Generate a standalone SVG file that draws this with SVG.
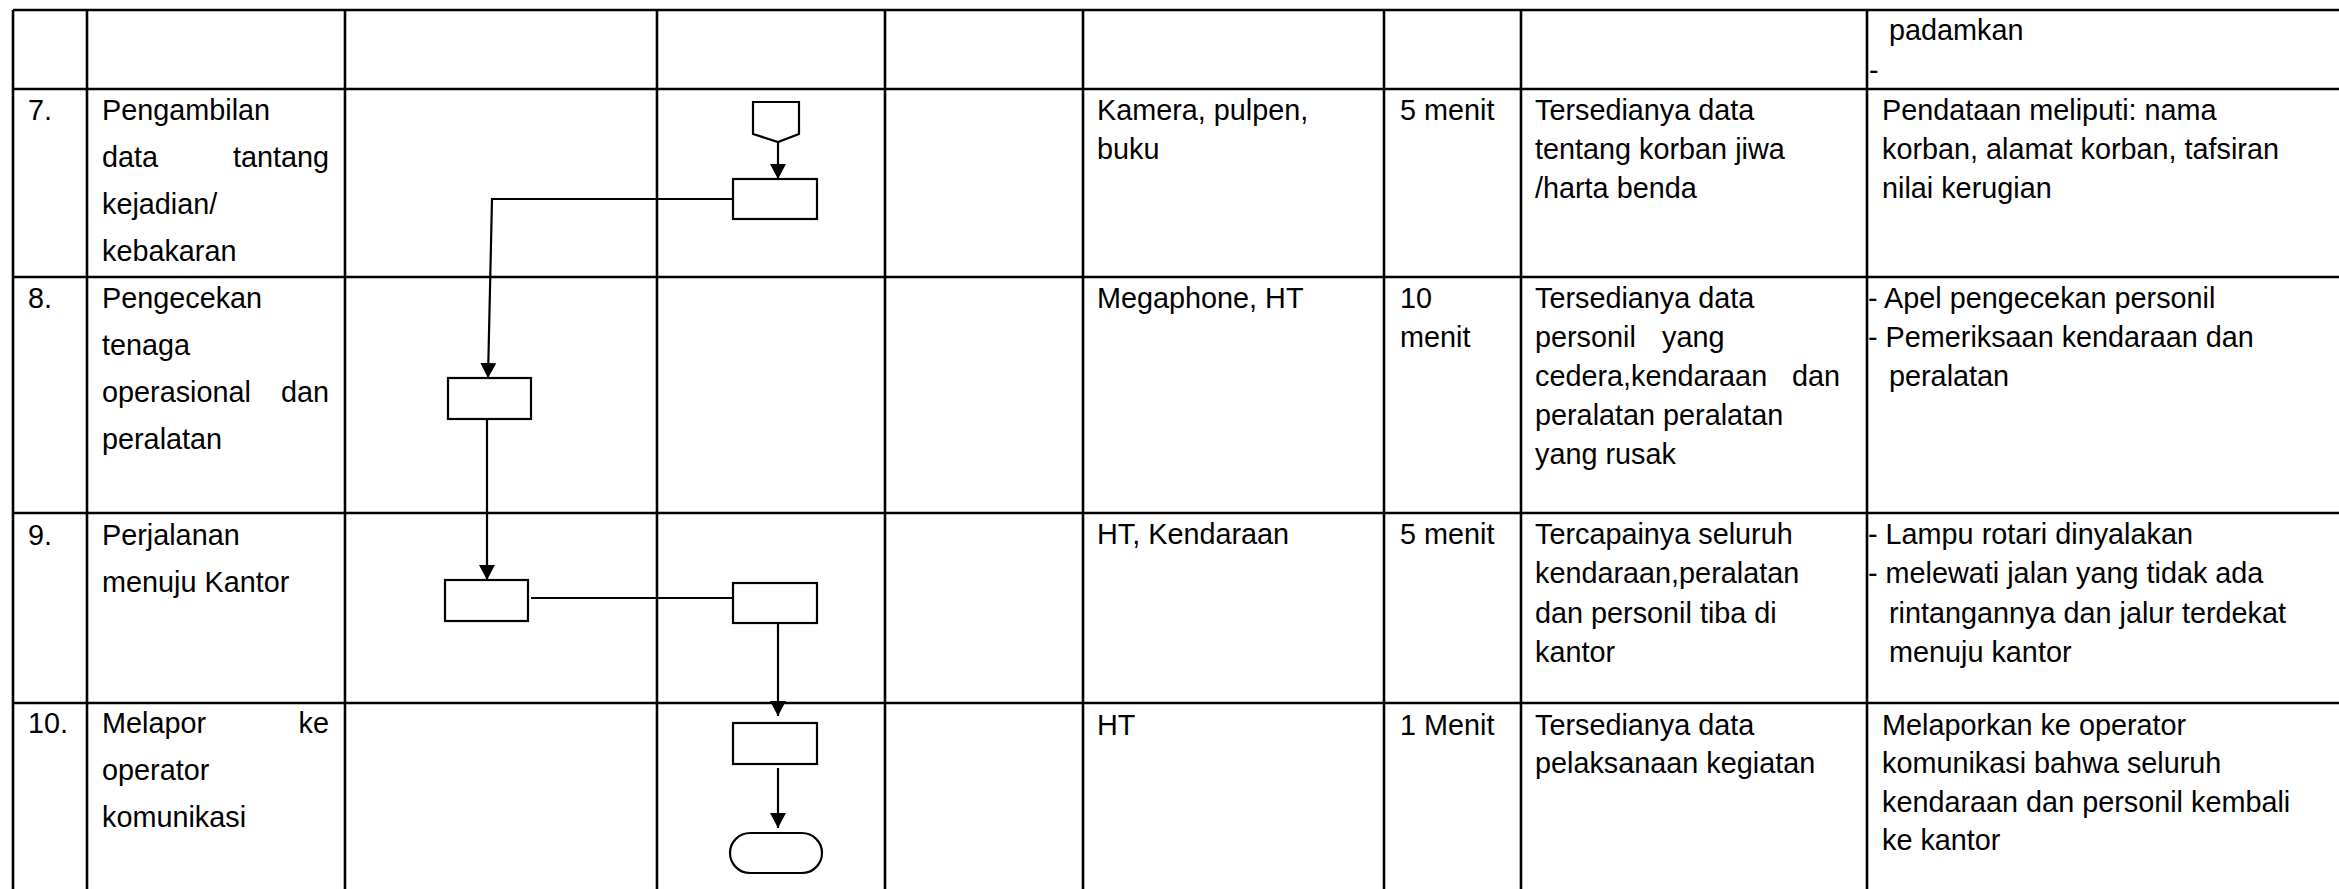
<svg xmlns="http://www.w3.org/2000/svg" width="2339" height="889" viewBox="0 0 2339 889">
<style>
.grid line{stroke:#000;stroke-width:2.6}
.t{font-family:"Liberation Sans",Arial,sans-serif;font-size:28.8px;fill:#000}
.e{text-anchor:end}
.shape{fill:#fff;stroke:#000;stroke-width:2.2}
.conn{fill:none;stroke:#000;stroke-width:2.2}
</style>
<defs>
<marker id="arr" markerUnits="userSpaceOnUse" markerWidth="16" markerHeight="16" viewBox="0 0 16 16" refX="15" refY="8" orient="auto">
<path d="M0,0 L15,8 L0,16 Z" fill="#000"/>
</marker>
</defs>
<rect width="2339" height="889" fill="#fff"/>
<g id="table" class="grid">
<line x1="13" y1="10" x2="2339" y2="10"/>
<line x1="13" y1="89" x2="2339" y2="89"/>
<line x1="13" y1="277" x2="2339" y2="277"/>
<line x1="13" y1="513" x2="2339" y2="513"/>
<line x1="13" y1="703" x2="2339" y2="703"/>
<line x1="13" y1="10" x2="13" y2="889"/>
<line x1="87" y1="10" x2="87" y2="889"/>
<line x1="345" y1="10" x2="345" y2="889"/>
<line x1="657" y1="10" x2="657" y2="889"/>
<line x1="885" y1="10" x2="885" y2="889"/>
<line x1="1083" y1="10" x2="1083" y2="889"/>
<line x1="1384" y1="10" x2="1384" y2="889"/>
<line x1="1521" y1="10" x2="1521" y2="889"/>
<line x1="1867" y1="10" x2="1867" y2="889"/>
</g>
<g id="row6">
<text class="t" x="1889" y="40">padamkan</text>
<text class="t" x="1869" y="80">-</text>
</g>
<g id="row7">
<text class="t" x="28" y="120">7.</text>
<text class="t" x="102" y="120">Pengambilan</text>
<text class="t" x="102" y="167">data</text>
<text class="t e" x="329" y="167">tantang</text>
<text class="t" x="102" y="214">kejadian/</text>
<text class="t" x="102" y="261">kebakaran</text>
<text class="t" x="1097" y="120">Kamera, pulpen,</text>
<text class="t" x="1097" y="159">buku</text>
<text class="t" x="1400" y="120">5 menit</text>
<text class="t" x="1535" y="120">Tersedianya data</text>
<text class="t" x="1535" y="159">tentang korban jiwa</text>
<text class="t" x="1535" y="198">/harta benda</text>
<text class="t" x="1882" y="120">Pendataan meliputi: nama</text>
<text class="t" x="1882" y="159">korban, alamat korban, tafsiran</text>
<text class="t" x="1882" y="198">nilai kerugian</text>
</g>
<g id="row8">
<text class="t" x="28" y="308">8.</text>
<text class="t" x="102" y="308">Pengecekan</text>
<text class="t" x="102" y="355">tenaga</text>
<text class="t" x="102" y="402">operasional</text>
<text class="t e" x="329" y="402">dan</text>
<text class="t" x="102" y="449">peralatan</text>
<text class="t" x="1097" y="308">Megaphone, HT</text>
<text class="t" x="1400" y="308">10</text>
<text class="t" x="1400" y="347">menit</text>
<text class="t" x="1535" y="308">Tersedianya data</text>
<text class="t" x="1535" y="347">personil</text>
<text class="t" x="1662" y="347">yang</text>
<text class="t" x="1535" y="386">cedera,kendaraan</text>
<text class="t e" x="1840" y="386">dan</text>
<text class="t" x="1535" y="425">peralatan peralatan</text>
<text class="t" x="1535" y="464">yang rusak</text>
<text class="t" x="1868" y="308">- Apel pengecekan personil</text>
<text class="t" x="1868" y="347">- Pemeriksaan kendaraan dan</text>
<text class="t" x="1889" y="386">peralatan</text>
</g>
<g id="row9">
<text class="t" x="28" y="545">9.</text>
<text class="t" x="102" y="545">Perjalanan</text>
<text class="t" x="102" y="592">menuju Kantor</text>
<text class="t" x="1097" y="544">HT, Kendaraan</text>
<text class="t" x="1400" y="544">5 menit</text>
<text class="t" x="1535" y="544">Tercapainya seluruh</text>
<text class="t" x="1535" y="583">kendaraan,peralatan</text>
<text class="t" x="1535" y="623">dan personil tiba di</text>
<text class="t" x="1535" y="662">kantor</text>
<text class="t" x="1868" y="544">- Lampu rotari dinyalakan</text>
<text class="t" x="1868" y="583">- melewati jalan yang tidak ada</text>
<text class="t" x="1889" y="623">rintangannya dan jalur terdekat</text>
<text class="t" x="1889" y="662">menuju kantor</text>
</g>
<g id="row10">
<text class="t" x="28" y="733">10.</text>
<text class="t" x="102" y="733">Melapor</text>
<text class="t e" x="329" y="733">ke</text>
<text class="t" x="102" y="780">operator</text>
<text class="t" x="102" y="827">komunikasi</text>
<text class="t" x="1097" y="735">HT</text>
<text class="t" x="1400" y="735">1 Menit</text>
<text class="t" x="1535" y="735">Tersedianya data</text>
<text class="t" x="1535" y="773">pelaksanaan kegiatan</text>
<text class="t" x="1882" y="735">Melaporkan ke operator</text>
<text class="t" x="1882" y="773">komunikasi bahwa seluruh</text>
<text class="t" x="1882" y="812">kendaraan dan personil kembali</text>
<text class="t" x="1882" y="850">ke kantor</text>
</g>
<g id="connectors">
<line class="conn" x1="778" y1="142" x2="778" y2="179" marker-end="url(#arr)"/>
<polyline class="conn" points="733,199 492,199 488,378" marker-end="url(#arr)"/>
<line class="conn" x1="487" y1="419" x2="487" y2="580" marker-end="url(#arr)"/>
<line class="conn" x1="531" y1="598" x2="735" y2="598"/>
<line class="conn" x1="778" y1="623" x2="778" y2="716" marker-end="url(#arr)"/>
<line class="conn" x1="778" y1="768" x2="778" y2="828" marker-end="url(#arr)"/>
</g>
<g id="offpage">
<polygon class="shape" points="753,102 799,102 799,134 778,142 753,134"/>
</g>
<g id="box7">
<rect class="shape" x="733" y="179" width="84" height="40"/>
</g>
<g id="box8">
<rect class="shape" x="448" y="378" width="83" height="41"/>
</g>
<g id="box9a">
<rect class="shape" x="445" y="580" width="83" height="41"/>
</g>
<g id="box9b">
<rect class="shape" x="733" y="583" width="84" height="40"/>
</g>
<g id="box10">
<rect class="shape" x="733" y="723" width="84" height="41"/>
</g>
<g id="end">
<rect class="shape" x="730" y="833" width="92" height="40" rx="20" ry="20"/>
</g>
</svg>
